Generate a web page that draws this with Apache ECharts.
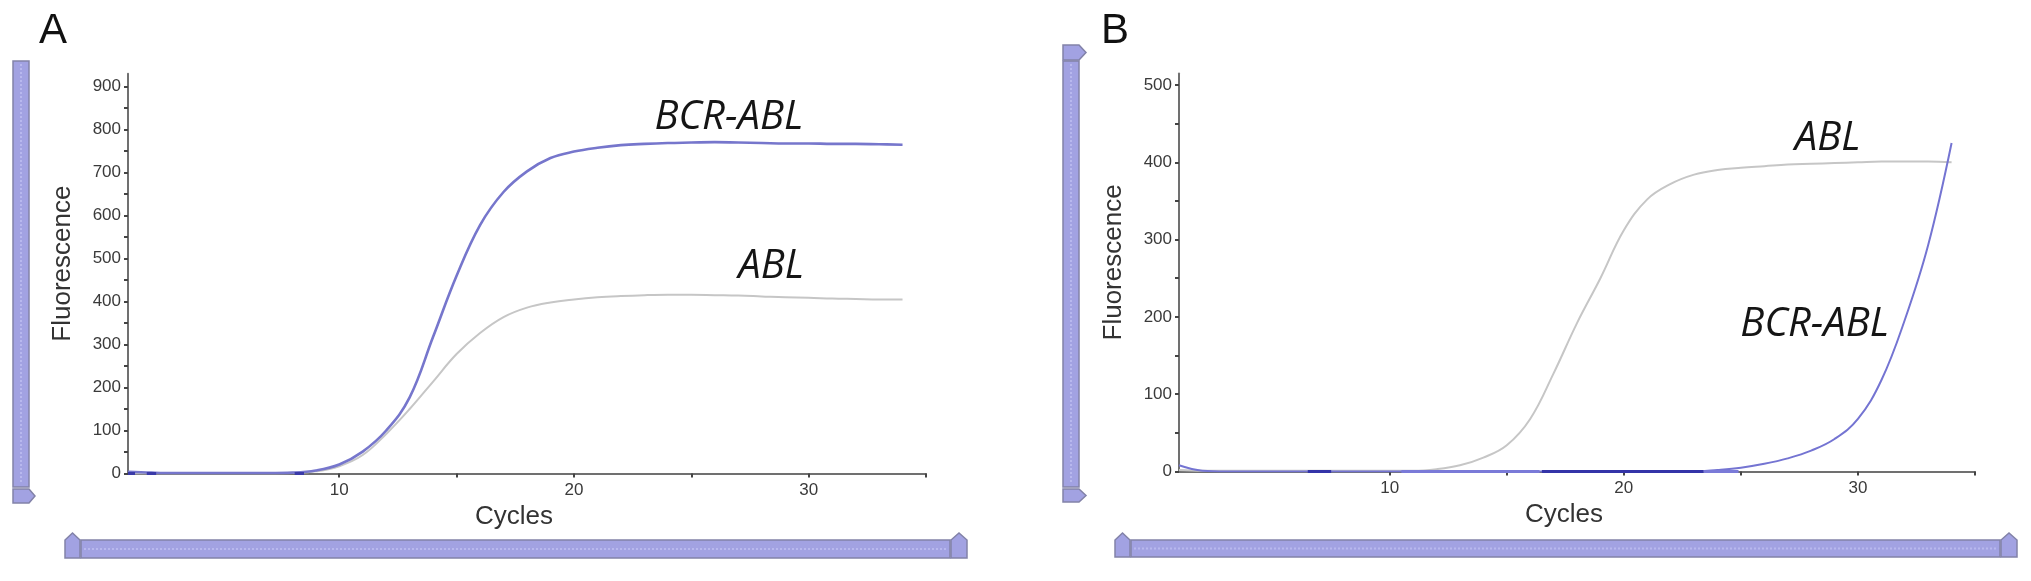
<!DOCTYPE html>
<html>
<head>
<meta charset="utf-8">
<script src="https://cdn.jsdelivr.net/npm/echarts@6/dist/echarts.min.js"></script>
<style>
html,body{margin:0;padding:0;background:#fff;}
#chart{width:2031px;height:581px;}
</style>
</head>
<body>
<div id="chart"></div>
<script>
// ---------- data ----------
const cycles = [1,2,3,4,5,6,7,8,9,10,11,12,13,14,15,16,17,18,19,20,21,22,23,24,25,26,27,28,29,30,31,32,33,34];

// Panel A
const aBcrAbl = [4,2,1,1,1,1,1,2,7,21,51,100,177,318,460,578,655,703,734,749,758,764,767,769,770,771,770,769,768,768,767,767,766,765];
const aAbl    = [0,0,0,0,0,0,0,1,5,17,43,92,150,214,278,327,364,386,398,405,410,413,415,416,416,415,414,412,410,409,407,406,405,405];

// Panel B
const bAbl    = [2,1,1,1,1,1,1,1,1,1,1,3,8,18,34,68,127,192,250,312,352,372,384,390,393,395,397,398,399,400,401,401,401,400];
const bBcrAbl = [8,1,0,0,0,0,0,0,0,0,0,0,0,0,0,0,0,0,0,0,0,0,0,2,5,10,17,27,42,68,118,196,293,425];

// other wells' baseline traces lying on zero (start, end cycles)
const aBaseTraces = [[1,1.3],[1.8,2.2],[8.1,8.5]];
const bBaseTracesDark = [[6.5,7.5],[16.5,23.4]];
const bBaseTracesLight = [[10.5,16.4],[23.4,24.9]];

// axis ticks / labels
const xTicks = [10,15,20,25,30,35];
const xLabels = [10,20,30];
const aYTicks = [0,50,100,150,200,250,300,350,400,450,500,550,600,650,700,750,800,850,900];
const aYLabels = [0,100,200,300,400,500,600,700,800,900];
const bYTicks = [0,50,100,150,200,250,300,350,400,450,500];
const bYLabels = [0,100,200,300,400,500];

// curve annotations [cycle, fluorescence]
const aLabelBcr = [26.6, 828];
const aLabelAbl = [28.4, 482];
const bLabelAbl = [28.7, 431];
const bLabelBcr = [28.15, 190];

// ---------- helpers ----------
const pairs = arr => cycles.map((c,i)=>[c, arr[i]]);
function segs(list){
  const out=[];
  list.forEach(s=>{ out.push([s[0],0]); out.push([s[1],0]); out.push([s[1],'-']); });
  return out;
}
const FONT = '"Liberation Sans", Arial, Helvetica, sans-serif';
const BLUE_A = '#7676cc';
const BLUE_B = '#7474d2';
const GRAY = '#c6c6c6';
const AXIS = '#707070';

function xAxisCfg(gridIndex){
  return {
    type:'value', gridIndex, min:1, max:35,
    name:'Cycles', nameLocation:'middle', nameGap:30,
    nameTextStyle:{fontFamily:FONT,fontSize:26,color:'#333',padding:[0,26,0,0]},
    axisLine:{show:true,onZero:false,lineStyle:{color:AXIS,width:2}},
    axisTick:{show:true,length:4,customValues:xTicks,lineStyle:{color:'#444',width:2}},
    axisLabel:{show:true,customValues:xLabels,margin:8,fontFamily:FONT,fontSize:17,color:'#3a3a3a'},
    splitLine:{show:false}
  };
}
function yAxisCfg(gridIndex,max,ticks,labels){
  return {
    type:'value', gridIndex, min:0, max,
    name:'Fluorescence', nameLocation:'middle', nameGap:52,
    nameTextStyle:{fontFamily:FONT,fontSize:26,color:'#333',padding:[0,0,0,20]},
    axisLine:{show:true,onZero:false,lineStyle:{color:AXIS,width:2}},
    axisTick:{show:true,length:4,customValues:ticks,lineStyle:{color:'#444',width:2}},
    axisLabel:{show:true,customValues:labels,margin:7,fontFamily:FONT,fontSize:17,color:'#3a3a3a'},
    splitLine:{show:false}
  };
}
function annot(coord,text){
  return {
    coord, value:text, symbol:'circle', symbolSize:1,
    itemStyle:{color:'rgba(0,0,0,0)'},
    label:{show:true,position:'inside',formatter:text,color:'#151515',
      fontFamily:'"Open Sans", "DejaVu Sans", sans-serif',fontStyle:'italic',fontSize:40}
  };
}
function curve(name,xi,data,color,width,marks){
  const s = {
    name,type:'line',xAxisIndex:xi,yAxisIndex:xi,data:pairs(data),
    showSymbol:false,smooth:0.4,
    lineStyle:{color,width},itemStyle:{color},z:3,silent:true
  };
  if(marks){ s.markPoint={silent:true,data:marks,animation:false}; }
  return s;
}
function trace(xi,list,color,width){
  return {type:'line',xAxisIndex:xi,yAxisIndex:xi,data:segs(list),showSymbol:false,
    connectNulls:false,lineStyle:{color,width},itemStyle:{color},z:4,silent:true};
}

// ---------- decorations (scrollbar-like bars) ----------
const BAR_FILL='#a2a2e2', BAR_STROKE='#8282a8';
function rect(x,y,w,h){return {type:'rect',shape:{x,y,width:w,height:h},style:{fill:BAR_FILL,stroke:BAR_STROKE,lineWidth:1.5},silent:true};}
function poly(points){return {type:'polygon',shape:{points},style:{fill:BAR_FILL,stroke:BAR_STROKE,lineWidth:1.5},silent:true};}
function stripeV(x,y1,y2){return {type:'line',shape:{x1:x,y1,x2:x,y2},style:{stroke:'#b8b8ee',lineWidth:2,lineDash:[2,2]},silent:true};}
function stripeH(y,x1,x2){return {type:'line',shape:{x1,y1:y,x2,y2:y},style:{stroke:'#b8b8ee',lineWidth:2,lineDash:[2,2]},silent:true};}

const graphics = [
  {type:'text',left:39,top:10,style:{text:'A',fontFamily:FONT,fontSize:42,fill:'#111'},silent:true},
  {type:'text',left:1101,top:10,style:{text:'B',fontFamily:FONT,fontSize:42,fill:'#111'},silent:true},
  // A vertical
  rect(13,61,16,426), stripeV(21,64,484),
  poly([[13,489],[29,489],[35,496],[29,503],[13,503]]),
  // A horizontal
  poly([[65,558],[65,540],[72.5,533],[80,540],[80,558]]),
  rect(81,540,869,18), stripeH(549,84,947),
  poly([[951,558],[951,540],[959,533],[967,540],[967,558]]),
  // B vertical
  poly([[1063,60],[1063,45],[1079,45],[1086,52.5],[1079,60]]),
  rect(1063,61,16,426), stripeV(1071,64,484),
  poly([[1063,489],[1079,489],[1086,495.5],[1079,502],[1063,502]]),
  // B horizontal
  poly([[1115,557],[1115,540],[1122.5,533],[1130,540],[1130,557]]),
  rect(1131,540,869,17), stripeH(548.5,1134,1997),
  poly([[2001,557],[2001,540],[2009,533],[2017,540],[2017,557]])
];

const option = {
  animation:false,
  backgroundColor:'#ffffff',
  grid:[
    {left:128,width:798,top:73.8,height:399.7,containLabel:false,outerBoundsMode:'none'},
    {left:1179,width:796,top:73.4,height:398.1,containLabel:false,outerBoundsMode:'none'}
  ],
  xAxis:[xAxisCfg(0),xAxisCfg(1)],
  yAxis:[yAxisCfg(0,930,aYTicks,aYLabels),yAxisCfg(1,515,bYTicks,bYLabels)],
  series:[
    curve('ABL',0,aAbl,GRAY,2,[annot(aLabelAbl,'ABL')]),
    curve('BCR-ABL',0,aBcrAbl,BLUE_A,2.6,[annot(aLabelBcr,'BCR-ABL')]),
    trace(0,aBaseTraces,'#3a3aa8',3),
    curve('ABL',1,bAbl,GRAY,2,[annot(bLabelAbl,'ABL')]),
    trace(1,bBaseTracesLight,'#7a7ad8',3),
    trace(1,bBaseTracesDark,'#3434a8',3),
    curve('BCR-ABL',1,bBcrAbl,BLUE_B,2,[annot(bLabelBcr,'BCR-ABL')])
  ],
  graphic:graphics
};
const chart = echarts.init(document.getElementById('chart'),null,{renderer:'canvas'});
chart.setOption(option);
</script>
</body>
</html>
